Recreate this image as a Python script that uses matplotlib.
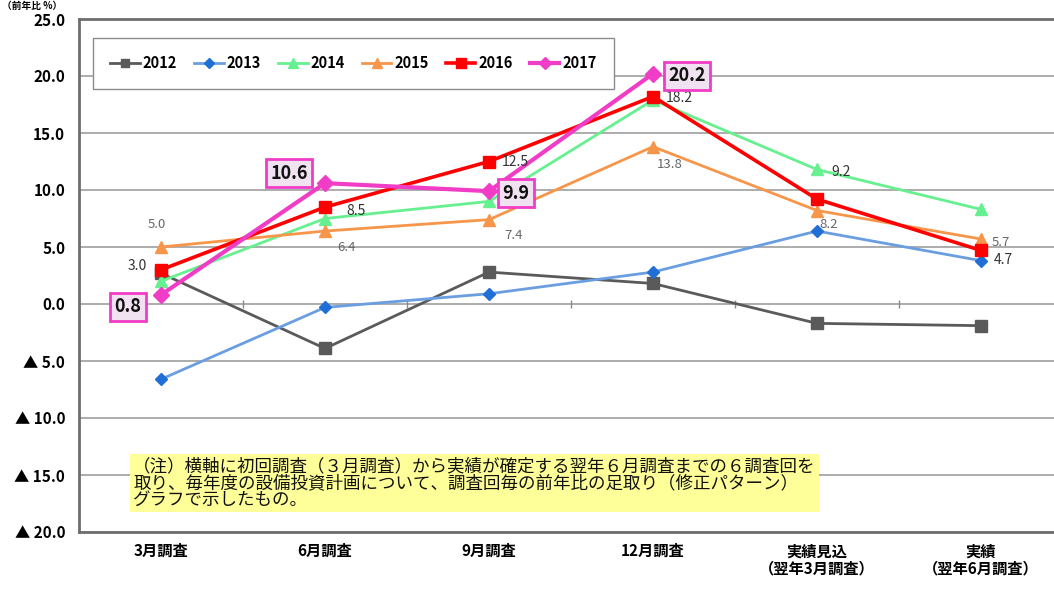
import matplotlib
matplotlib.use("Agg")
import matplotlib.pyplot as plt
import numpy as np

plt.rcParams['font.family'] = ['Noto Sans CJK JP', 'DejaVu Sans']

# data
categories = ['3月調査', '6月調査', '9月調査', '12月調査',
              '実績見込\n（翌年3月調査）', '実績\n（翌年6月調査）']
y2012 = [2.7, -3.9, 2.8, 1.8, -1.7, -1.9]
y2013 = [-6.6, -0.3, 0.9, 2.8, 6.4, 3.8]
y2014 = [2.0, 7.5, 9.0, 17.9, 11.8, 8.3]
y2015 = [5.0, 6.4, 7.4, 13.8, 8.2, 5.7]
y2016 = [3.0, 8.5, 12.5, 18.2, 9.2, 4.7]
y2017 = [0.8, 10.6, 9.9, 20.2]
yticks = [25, 20, 15, 10, 5, 0, -5, -10, -15, -20]
note = ('（注）横軸に初回調査（３月調査）から実績が確定する翌年６月調査までの６調査回を\n'
        '取り、毎年度の設備投資計画について、調査回毎の前年比の足取り（修正パターン）\n'
        'グラフで示したもの。')

fig = plt.figure(figsize=(10.54, 5.89), dpi=100)
ax = fig.add_axes([79/1054, 57/589, 984/1054, 513/589])
x = np.arange(len(categories))

ax.set_xlim(-0.5, 5.5)
ax.set_ylim(-20, 25)
ax.set_yticks(yticks)
ax.set_yticklabels([('%.1f' % v) if v >= 0 else ('▲ %.1f' % -v) for v in yticks],
                   fontsize=11, fontweight='bold')
ax.set_xticks(x)
ax.set_xticklabels(categories, fontsize=11, fontweight='bold', linespacing=1.1)
ax.tick_params(axis='both', length=0)
ax.tick_params(axis='x', pad=8)
ax.tick_params(axis='y', pad=10)
for y in yticks:
    ax.axhline(y, color='#a6a6a6', lw=1.3, zorder=0)
for s in ax.spines.values():
    s.set_color('#6e6e6e')
    s.set_linewidth(2)
# tick marks on the zero line between categories
ax.plot(x[1:] - 0.5, [0] * (len(x) - 1), marker='|', ms=6, mew=1, color='#8a8a8a',
        ls='none', zorder=1)

ax.plot(x, y2012, color='#5a5a5a', lw=2, marker='s', ms=8, label='2012', zorder=3)
ax.plot(x, y2013, color='#6a9ee0', lw=2, marker='D', ms=6.5, mfc='#1f6fd6',
        mec='#1f6fd6', label='2013', zorder=3)
ax.plot(x, y2014, color='#66f08f', lw=2, marker='^', ms=9, label='2014', zorder=3)
ax.plot(x, y2015, color='#f7964a', lw=2, marker='^', ms=9, label='2015', zorder=3)
ax.plot(x, y2016, color='#ff0000', lw=2.6, marker='s', ms=9, label='2016', zorder=4)
ax.plot(x[:len(y2017)], y2017, color='#f03cc6', lw=3, marker='D', ms=8,
        label='2017', zorder=5)

leg = ax.legend(loc='upper left', bbox_to_anchor=(0.0142, 0.963), ncol=6,
                frameon=True, fancybox=False, edgecolor='#8c8c8c', framealpha=1,
                prop={'size': 10.5, 'weight': 'bold'}, handlelength=2.0,
                handletextpad=0.2, columnspacing=1.2, borderpad=1.2,
                borderaxespad=0, markerscale=0.8)
leg.get_frame().set_linewidth(1)

# labels for 2016
off16 = [(-24, 4), (31, -4), (26, -1), (26, -1), (24, 27), (22, -10)]
for i, v in enumerate(y2016):
    ax.annotate('%.1f' % v, (x[i], v), xytext=off16[i], textcoords='offset pixels',
                ha='center', va='center', fontsize=10, color='#333333', zorder=6)
# labels for 2015
off15 = [(-4, 22), (22, -16), (25, -16), (17, -18), (12, -14), (20, -3)]
for i, v in enumerate(y2015):
    ax.annotate('%.1f' % v, (x[i], v), xytext=off15[i], textcoords='offset pixels',
                ha='center', va='center', fontsize=9.5, color='#666666', zorder=6)
# boxed labels for 2017
off17 = [(-33, -12), (-36, 10), (27, -2), (34, -2)]
for i, v in enumerate(y2017):
    ax.annotate('%.1f' % v, (x[i], v), xytext=off17[i], textcoords='offset pixels',
                ha='center', va='center', fontsize=13, fontweight='bold', color='#111111',
                bbox=dict(boxstyle='square,pad=0.25', fc='#f0e2f0', ec='#f03cc6', lw=2),
                zorder=7)

ax.text(0.055, 0.146, note, transform=ax.transAxes, ha='left', va='top',
        fontsize=12.6, linespacing=0.92, color='#111111',
        bbox=dict(boxstyle='square,pad=0.2', fc='#ffff99', ec='none'), zorder=6)

fig.text(0.002, 0.999, '（前年比 %）', ha='left', va='top', fontsize=7,
         fontweight='bold')

fig.savefig('out.png', dpi=100)
